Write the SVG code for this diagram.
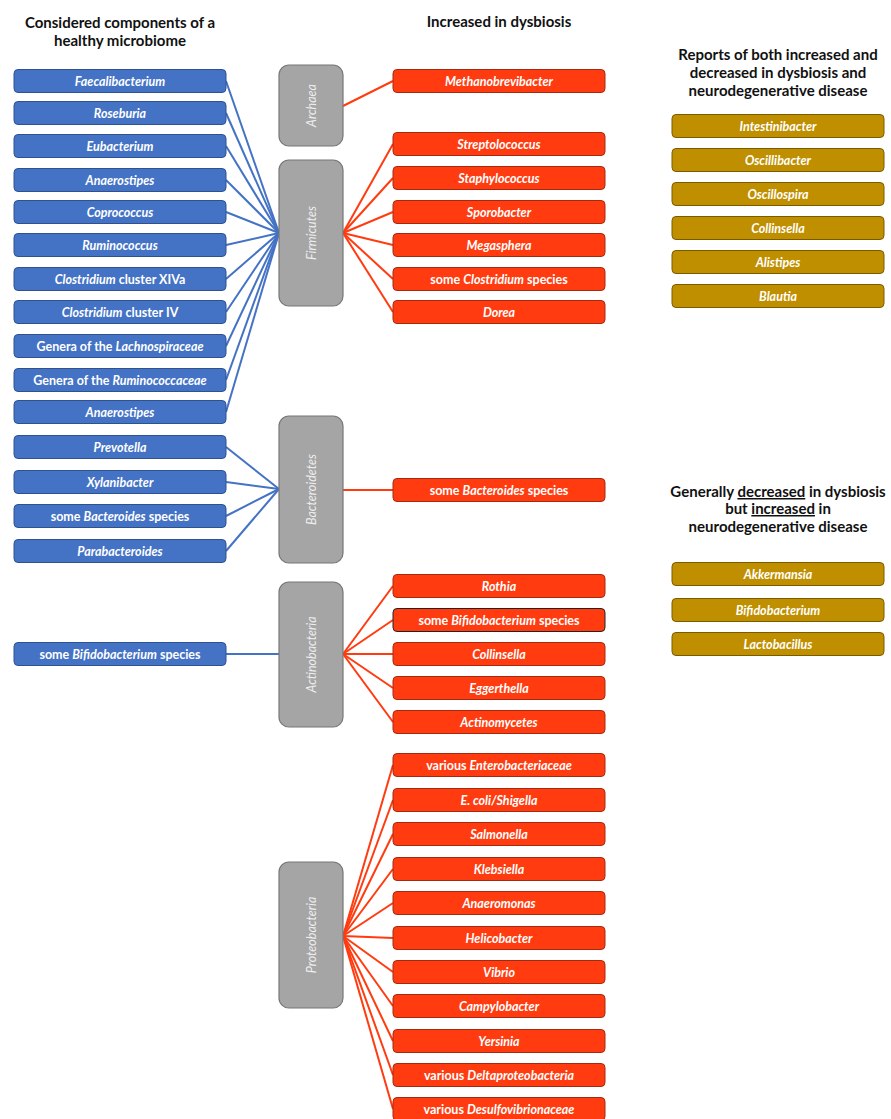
<svg xmlns="http://www.w3.org/2000/svg" width="891" height="1119" viewBox="0 0 891 1119">
<style>
text{font-family:Lato,"Open Sans","Liberation Sans",sans-serif}
.h{font-size:15px;font-weight:bold;fill:#111;text-anchor:middle}
.t{font-size:12.5px;font-weight:bold;font-style:italic;fill:#fff;text-anchor:middle}
.n{font-style:normal}
.g{font-size:12.5px;font-style:italic;fill:#eee;text-anchor:middle}
.blue rect{fill:#4472C4;stroke:#2F528F;stroke-width:1}
.red rect{fill:#FF3B0F;stroke:#A32A10;stroke-width:1}
.gold rect{fill:#BF8F00;stroke:#7A5C00;stroke-width:1}
.gray rect{fill:#A5A5A5;stroke:#777;stroke-width:1.2}
.cb line{stroke:#4472C4;stroke-width:2}
.cr line{stroke:#FF3B0F;stroke-width:2}
</style>
<rect width="891" height="1119" fill="#fff"/>
<g id="headings">
<text class="h" x="120" y="28">Considered components of a</text>
<text class="h" x="120" y="46">healthy microbiome</text>
<text class="h" x="499" y="27">Increased in dysbiosis</text>
<text class="h" x="778" y="60">Reports of both increased and</text>
<text class="h" x="778" y="78">decreased in dysbiosis and</text>
<text class="h" x="778" y="96">neurodegenerative disease</text>
<text class="h" x="778" y="497">Generally <tspan text-decoration="underline">decreased</tspan> in dysbiosis</text>
<text class="h" x="778" y="514">but <tspan text-decoration="underline">increased</tspan> in</text>
<text class="h" x="778" y="532">neurodegenerative disease</text>
</g>
<g id="connectors">
<g class="cb">
<line x1="226" y1="81" x2="279" y2="233"/>
<line x1="226" y1="113" x2="279" y2="233"/>
<line x1="226" y1="146" x2="279" y2="233"/>
<line x1="226" y1="180" x2="279" y2="233"/>
<line x1="226" y1="212" x2="279" y2="233"/>
<line x1="226" y1="245" x2="279" y2="233"/>
<line x1="226" y1="279" x2="279" y2="233"/>
<line x1="226" y1="312" x2="279" y2="233"/>
<line x1="226" y1="346" x2="279" y2="233"/>
<line x1="226" y1="380" x2="279" y2="233"/>
<line x1="226" y1="412" x2="279" y2="233"/>
<line x1="226" y1="447" x2="279" y2="489"/>
<line x1="226" y1="482" x2="279" y2="489"/>
<line x1="226" y1="516" x2="279" y2="489"/>
<line x1="226" y1="551" x2="279" y2="489"/>
<line x1="226" y1="654" x2="279" y2="654"/>
</g>
<g class="cr">
<line x1="343" y1="106" x2="393" y2="81"/>
<line x1="343" y1="233" x2="393" y2="144"/>
<line x1="343" y1="233" x2="393" y2="178"/>
<line x1="343" y1="233" x2="393" y2="212"/>
<line x1="343" y1="233" x2="393" y2="245"/>
<line x1="343" y1="233" x2="393" y2="279"/>
<line x1="343" y1="233" x2="393" y2="312"/>
<line x1="343" y1="490" x2="393" y2="490"/>
<line x1="343" y1="654" x2="393" y2="586"/>
<line x1="343" y1="654" x2="393" y2="620"/>
<line x1="343" y1="654" x2="393" y2="654"/>
<line x1="343" y1="654" x2="393" y2="688"/>
<line x1="343" y1="654" x2="393" y2="722"/>
<line x1="343" y1="936" x2="393" y2="765"/>
<line x1="343" y1="936" x2="393" y2="800"/>
<line x1="343" y1="936" x2="393" y2="834"/>
<line x1="343" y1="936" x2="393" y2="869"/>
<line x1="343" y1="936" x2="393" y2="903"/>
<line x1="343" y1="936" x2="393" y2="938"/>
<line x1="343" y1="936" x2="393" y2="972"/>
<line x1="343" y1="936" x2="393" y2="1006"/>
<line x1="343" y1="936" x2="393" y2="1041"/>
<line x1="343" y1="936" x2="393" y2="1075"/>
<line x1="343" y1="936" x2="393" y2="1109"/>
</g>
</g>
<g class="gray">
<g id="archaea"><rect x="279" y="65" width="64" height="81" rx="10"/><text class="g" transform="translate(315.5,105.5) rotate(-90)">Archaea</text></g>
<g id="firmicutes"><rect x="279" y="160" width="64" height="146" rx="10"/><text class="g" transform="translate(315.5,233) rotate(-90)">Firmicutes</text></g>
<g id="bacteroidetes"><rect x="279" y="416" width="64" height="147" rx="10"/><text class="g" transform="translate(315.5,489.5) rotate(-90)">Bacteroidetes</text></g>
<g id="actinobacteria"><rect x="279" y="582" width="64" height="145" rx="10"/><text class="g" transform="translate(315.5,654.5) rotate(-90)">Actinobacteria</text></g>
<g id="proteobacteria"><rect x="279" y="862" width="64" height="146" rx="10"/><text class="g" transform="translate(315.5,935) rotate(-90)">Proteobacteria</text></g>
</g>
<g class="blue">
<g id="b1"><rect x="14" y="69.5" width="212" height="23" rx="4"/><text class="t" x="120" y="85.5">Faecalibacterium</text></g>
<g id="b2"><rect x="14" y="101.5" width="212" height="23" rx="4"/><text class="t" x="120" y="117.5">Roseburia</text></g>
<g id="b3"><rect x="14" y="134.5" width="212" height="23" rx="4"/><text class="t" x="120" y="150.5">Eubacterium</text></g>
<g id="b4"><rect x="14" y="168.5" width="212" height="23" rx="4"/><text class="t" x="120" y="184.5">Anaerostipes</text></g>
<g id="b5"><rect x="14" y="200.5" width="212" height="23" rx="4"/><text class="t" x="120" y="216.5">Coprococcus</text></g>
<g id="b6"><rect x="14" y="233.5" width="212" height="23" rx="4"/><text class="t" x="120" y="249.5">Ruminococcus</text></g>
<g id="b7"><rect x="14" y="267.5" width="212" height="23" rx="4"/><text class="t" x="120" y="283.5">Clostridium<tspan class="n"> cluster XIVa</tspan></text></g>
<g id="b8"><rect x="14" y="300.5" width="212" height="23" rx="4"/><text class="t" x="120" y="316.5">Clostridium<tspan class="n"> cluster IV</tspan></text></g>
<g id="b9"><rect x="14" y="334.5" width="212" height="23" rx="4"/><text class="t" x="120" y="350.5"><tspan class="n">Genera of the </tspan>Lachnospiraceae</text></g>
<g id="b10"><rect x="14" y="368.5" width="212" height="23" rx="4"/><text class="t" x="120" y="384.5"><tspan class="n">Genera of the </tspan>Ruminococcaceae</text></g>
<g id="b11"><rect x="14" y="400.5" width="212" height="23" rx="4"/><text class="t" x="120" y="416.5">Anaerostipes</text></g>
<g id="b12"><rect x="14" y="435.5" width="212" height="23" rx="4"/><text class="t" x="120" y="451.5">Prevotella</text></g>
<g id="b13"><rect x="14" y="470.5" width="212" height="23" rx="4"/><text class="t" x="120" y="486.5">Xylanibacter</text></g>
<g id="b14"><rect x="14" y="504.5" width="212" height="23" rx="4"/><text class="t" x="120" y="520.5"><tspan class="n">some </tspan>Bacteroides<tspan class="n"> species</tspan></text></g>
<g id="b15"><rect x="14" y="539.5" width="212" height="23" rx="4"/><text class="t" x="120" y="555.5">Parabacteroides</text></g>
<g id="b16"><rect x="14" y="642.5" width="212" height="23" rx="4"/><text class="t" x="120" y="658.5"><tspan class="n">some </tspan>Bifidobacterium<tspan class="n"> species</tspan></text></g>
</g>
<g class="red">
<g id="r1"><rect x="393" y="69.5" width="212" height="23" rx="4"/><text class="t" x="499" y="85.5">Methanobrevibacter</text></g>
<g id="r2"><rect x="393" y="132.5" width="212" height="23" rx="4"/><text class="t" x="499" y="148.5">Streptolococcus</text></g>
<g id="r3"><rect x="393" y="166.5" width="212" height="23" rx="4"/><text class="t" x="499" y="182.5">Staphylococcus</text></g>
<g id="r4"><rect x="393" y="200.5" width="212" height="23" rx="4"/><text class="t" x="499" y="216.5">Sporobacter</text></g>
<g id="r5"><rect x="393" y="233.5" width="212" height="23" rx="4"/><text class="t" x="499" y="249.5">Megasphera</text></g>
<g id="r6"><rect x="393" y="267.5" width="212" height="23" rx="4"/><text class="t" x="499" y="283.5"><tspan class="n">some </tspan>Clostridium<tspan class="n"> species</tspan></text></g>
<g id="r7"><rect x="393" y="300.5" width="212" height="23" rx="4"/><text class="t" x="499" y="316.5">Dorea</text></g>
<g id="r8"><rect x="393" y="478.5" width="212" height="23" rx="4"/><text class="t" x="499" y="494.5"><tspan class="n">some </tspan>Bacteroides<tspan class="n"> species</tspan></text></g>
<g id="r9"><rect x="393" y="574.5" width="212" height="23" rx="4"/><text class="t" x="499" y="590.5">Rothia</text></g>
<g id="r10"><rect x="393" y="608.5" width="212" height="23" rx="4" style="stroke:#222"/><text class="t" x="499" y="624.5"><tspan class="n">some </tspan>Bifidobacterium<tspan class="n"> species</tspan></text></g>
<g id="r11"><rect x="393" y="642.5" width="212" height="23" rx="4"/><text class="t" x="499" y="658.5">Collinsella</text></g>
<g id="r12"><rect x="393" y="676.5" width="212" height="23" rx="4"/><text class="t" x="499" y="692.5">Eggerthella</text></g>
<g id="r13"><rect x="393" y="710.5" width="212" height="23" rx="4"/><text class="t" x="499" y="726.5">Actinomycetes</text></g>
<g id="r14"><rect x="393" y="753.5" width="212" height="23" rx="4"/><text class="t" x="499" y="769.5"><tspan class="n">various </tspan>Enterobacteriaceae</text></g>
<g id="r15"><rect x="393" y="788.5" width="212" height="23" rx="4"/><text class="t" x="499" y="804.5">E. coli/Shigella</text></g>
<g id="r16"><rect x="393" y="822.5" width="212" height="23" rx="4"/><text class="t" x="499" y="838.5">Salmonella</text></g>
<g id="r17"><rect x="393" y="857.5" width="212" height="23" rx="4"/><text class="t" x="499" y="873.5">Klebsiella</text></g>
<g id="r18"><rect x="393" y="891.5" width="212" height="23" rx="4"/><text class="t" x="499" y="907.5">Anaeromonas</text></g>
<g id="r19"><rect x="393" y="926.5" width="212" height="23" rx="4"/><text class="t" x="499" y="942.5">Helicobacter</text></g>
<g id="r20"><rect x="393" y="960.5" width="212" height="23" rx="4"/><text class="t" x="499" y="976.5">Vibrio</text></g>
<g id="r21"><rect x="393" y="994.5" width="212" height="23" rx="4"/><text class="t" x="499" y="1010.5">Campylobacter</text></g>
<g id="r22"><rect x="393" y="1029.5" width="212" height="23" rx="4"/><text class="t" x="499" y="1045.5">Yersinia</text></g>
<g id="r23"><rect x="393" y="1063.5" width="212" height="23" rx="4"/><text class="t" x="499" y="1079.5"><tspan class="n">various </tspan>Deltaproteobacteria</text></g>
<g id="r24"><rect x="393" y="1097.5" width="212" height="23" rx="4"/><text class="t" x="499" y="1113.5"><tspan class="n">various </tspan>Desulfovibrionaceae</text></g>
</g>
<g class="gold">
<g id="y1"><rect x="672" y="114.5" width="212" height="23" rx="4"/><text class="t" x="778" y="130.5">Intestinibacter</text></g>
<g id="y2"><rect x="672" y="148.5" width="212" height="23" rx="4"/><text class="t" x="778" y="164.5">Oscillibacter</text></g>
<g id="y3"><rect x="672" y="182.5" width="212" height="23" rx="4"/><text class="t" x="778" y="198.5">Oscillospira</text></g>
<g id="y4"><rect x="672" y="216.5" width="212" height="23" rx="4"/><text class="t" x="778" y="232.5">Collinsella</text></g>
<g id="y5"><rect x="672" y="250.5" width="212" height="23" rx="4"/><text class="t" x="778" y="266.5">Alistipes</text></g>
<g id="y6"><rect x="672" y="284.5" width="212" height="23" rx="4"/><text class="t" x="778" y="300.5">Blautia</text></g>
<g id="y7"><rect x="672" y="562.5" width="212" height="23" rx="4"/><text class="t" x="778" y="578.5">Akkermansia</text></g>
<g id="y8"><rect x="672" y="598.5" width="212" height="23" rx="4"/><text class="t" x="778" y="614.5">Bifidobacterium</text></g>
<g id="y9"><rect x="672" y="632.5" width="212" height="23" rx="4"/><text class="t" x="778" y="648.5">Lactobacillus</text></g>
</g>
</svg>
